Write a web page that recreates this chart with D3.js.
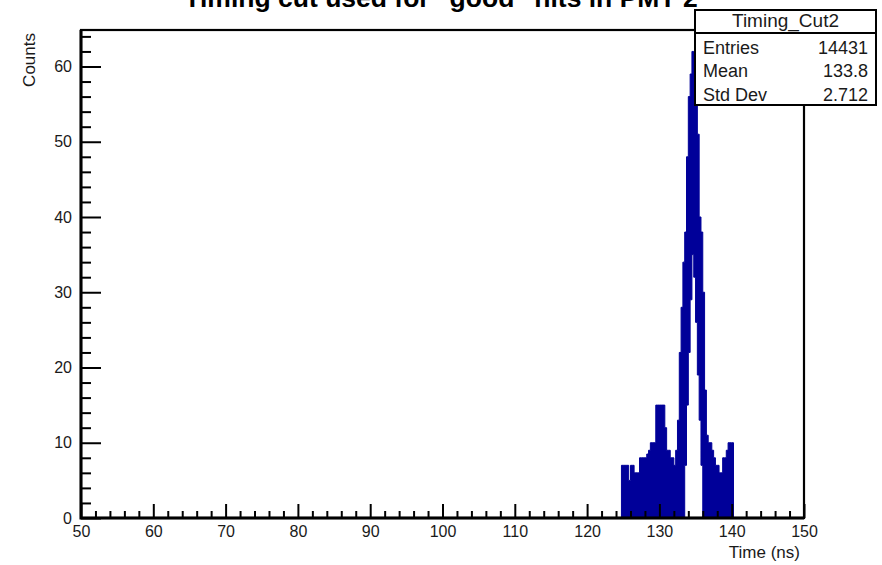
<!DOCTYPE html>
<html>
<head>
<meta charset="utf-8">
<script src="https://cdn.jsdelivr.net/npm/d3@7"></script>
<style>
  html, body { margin: 0; padding: 0; background: #fff; }
  svg { display: block; font-family: "Liberation Sans", Arial, Helvetica, sans-serif; }
</style>
</head>
<body>
<svg id="chart" width="882" height="565"></svg>
<script>
// ---------------- data ----------------
const chartTitle = 'Timing cut used for "good" hits in PMT 2';
const xAxisTitle = "Time (ns)";
const yAxisTitle = "Counts";
const statsName = "Timing_Cut2";
const statsLabels = ["Entries", "Mean", "Std Dev"];
const statsValues = ["14431", "133.8", "2.712"];

const xMajorTicks = [50, 60, 70, 80, 90, 100, 110, 120, 130, 140, 150];
const yMajorTicks = [0, 10, 20, 30, 40, 50, 60];

const binWidth = 0.25; // ns
const binLowEdges = [
  124.75, 125.00, 125.25, 125.50, 125.75, 126.00, 126.25, 126.50, 126.75, 127.00,
  127.25, 127.50, 127.75, 128.00, 128.25, 128.50, 128.75, 129.00, 129.25, 129.50,
  129.75, 130.00, 130.25, 130.50, 130.75, 131.00, 131.25, 131.50, 131.75, 132.00,
  132.25, 132.50, 132.75, 133.00, 133.25, 133.50, 133.75, 134.00, 134.25, 134.50,
  134.75, 135.00, 135.25, 135.50, 135.75, 136.00, 136.25, 136.50, 136.75, 137.00,
  137.25, 137.50, 137.75, 138.00, 138.25, 138.50, 138.75, 139.00, 139.25, 139.50,
  139.75, 140.00
];
const counts = [
  7, 7, 7, 7, 5, 7, 7, 6, 6, 6,
  8, 8, 8, 8, 8.5, 9, 10, 10, 10, 15,
  15, 15, 15, 15, 12, 9, 9, 8, 8, 7,
  9, 13, 22, 28, 34, 38, 48, 56, 59, 62,
  62, 61, 51, 40, 38, 30, 17, 11, 10, 10,
  9, 8, 7, 7, 6, 6, 8, 8, 9, 10,
  10, 10
];
// lower edge of the visible blue fill (white gap under the main peak)
const fillFloor = [
  0, 0, 0, 0, 0, 0, 0, 0, 0, 0,
  0, 0, 0, 0, 0, 0, 0, 0, 0, 0,
  0, 0, 0, 0, 0, 0, 0, 0, 0, 0,
  0, 0, 0, 0, 0, 7, 15, 22, 29, 35,
  32, 26, 19, 13, 7, 0, 0, 0, 0, 0,
  0, 0, 0, 0, 0, 0, 0, 0, 0, 0,
  0, 0
];

// ---------------- layout ----------------
const frame = { left: 81, right: 804, top: 30, bottom: 518 };
const histColor = "#000099";
const fontStack = '"Liberation Sans", Arial, Helvetica, sans-serif';

const svg = d3.select("#chart");

const x = d3.scaleLinear().domain([50, 150]).range([frame.left, frame.right]);
const y = d3.scaleLinear().domain([0, 64.85]).range([frame.bottom, frame.top]);

// ---------------- histogram ----------------
const pts = binLowEdges.map((t, i) => ({ t: t, c: counts[i], f: fillFloor[i] }));
const last = binLowEdges[binLowEdges.length - 1] + binWidth;
pts.push({ t: last, c: 0, f: 0 });

const area = d3.area()
  .x(d => x(d.t))
  .y0(d => y(d.f))
  .y1(d => y(d.c))
  .curve(d3.curveStepAfter);

svg.append("path")
  .datum(pts)
  .attr("d", area)
  .attr("fill", histColor)
  .attr("stroke", histColor)
  .attr("stroke-width", 1);

svg.append("line")
  .attr("x1", x(50)).attr("x2", x(150))
  .attr("y1", y(0)).attr("y2", y(0))
  .attr("stroke", histColor).attr("stroke-width", 1);

// ---------------- axes ----------------
const xMinor = d3.range(50, 151, 2).filter(v => !xMajorTicks.includes(v));
const yMinor = d3.range(0, 65, 2).filter(v => !yMajorTicks.includes(v));

function styleAxis(g) {
  g.select(".domain").remove();
  g.selectAll(".tick line").attr("stroke", "#000").attr("stroke-width", 2);
  g.selectAll(".tick text")
    .attr("fill", "#1a1a1a")
    .style("font-family", fontStack)
    .style("font-size", "16px");
}

svg.append("g")
  .attr("transform", `translate(${frame.left},0)`)
  .call(d3.axisLeft(y).tickValues(yMajorTicks).tickSize(-20).tickPadding(9).tickFormat(d3.format("d")))
  .call(styleAxis);
svg.append("g")
  .attr("transform", `translate(${frame.left},0)`)
  .call(d3.axisLeft(y).tickValues(yMinor).tickSize(-10).tickFormat(""))
  .call(styleAxis);

svg.append("g")
  .attr("transform", `translate(0,${frame.bottom})`)
  .call(d3.axisBottom(x).tickValues(xMajorTicks).tickSize(-14).tickPadding(8).tickFormat(d3.format("d")))
  .call(styleAxis);
svg.append("g")
  .attr("transform", `translate(0,${frame.bottom})`)
  .call(d3.axisBottom(x).tickValues(xMinor).tickSize(-7).tickFormat(""))
  .call(styleAxis);

// frame: thicker axis sides
svg.append("rect")
  .attr("x", frame.left).attr("y", frame.top)
  .attr("width", frame.right - frame.left).attr("height", frame.bottom - frame.top)
  .attr("fill", "none").attr("stroke", "#000").attr("stroke-width", 2.2);
svg.append("path")
  .attr("d", `M${frame.left},${frame.top}V${frame.bottom}H${frame.right}`)
  .attr("fill", "none").attr("stroke", "#000").attr("stroke-width", 3);

// ---------------- titles ----------------
svg.append("text")
  .attr("x", 441).attr("y", 6.5)
  .attr("text-anchor", "middle")
  .style("font-family", fontStack)
  .style("font-weight", "bold")
  .style("font-size", "26.5px")
  .attr("fill", "#000")
  .text(chartTitle);

svg.append("text")
  .attr("transform", "translate(35,33) rotate(-90)")
  .attr("text-anchor", "end")
  .style("font-family", fontStack)
  .style("font-size", "17px")
  .attr("fill", "#1a1a1a")
  .text(yAxisTitle);

svg.append("text")
  .attr("x", 800).attr("y", 558)
  .attr("text-anchor", "end")
  .style("font-family", fontStack)
  .style("font-size", "17px")
  .attr("fill", "#1a1a1a")
  .text(xAxisTitle);

// ---------------- stats box ----------------
const box = { x: 695, y: 10, w: 181, h: 95, sep: 33 };
svg.append("rect")
  .attr("x", box.x).attr("y", box.y).attr("width", box.w).attr("height", box.h)
  .attr("fill", "#fff").attr("stroke", "#000").attr("stroke-width", 2);
svg.append("line")
  .attr("x1", box.x).attr("x2", box.x + box.w)
  .attr("y1", box.sep).attr("y2", box.sep)
  .attr("stroke", "#000").attr("stroke-width", 2);
svg.append("text")
  .attr("x", box.x + box.w / 2).attr("y", 27)
  .attr("text-anchor", "middle")
  .style("font-family", fontStack).style("font-size", "19px")
  .attr("fill", "#1a1a1a")
  .text(statsName);

const rowBase = [54, 77, 101];
statsLabels.forEach((lab, i) => {
  svg.append("text")
    .attr("x", box.x + 8).attr("y", rowBase[i])
    .style("font-family", fontStack).style("font-size", "18px")
    .attr("fill", "#1a1a1a")
    .text(lab);
  svg.append("text")
    .attr("x", box.x + box.w - 8).attr("y", rowBase[i])
    .attr("text-anchor", "end")
    .style("font-family", fontStack).style("font-size", "18px")
    .attr("fill", "#1a1a1a")
    .text(statsValues[i]);
});
</script>
</body>
</html>
